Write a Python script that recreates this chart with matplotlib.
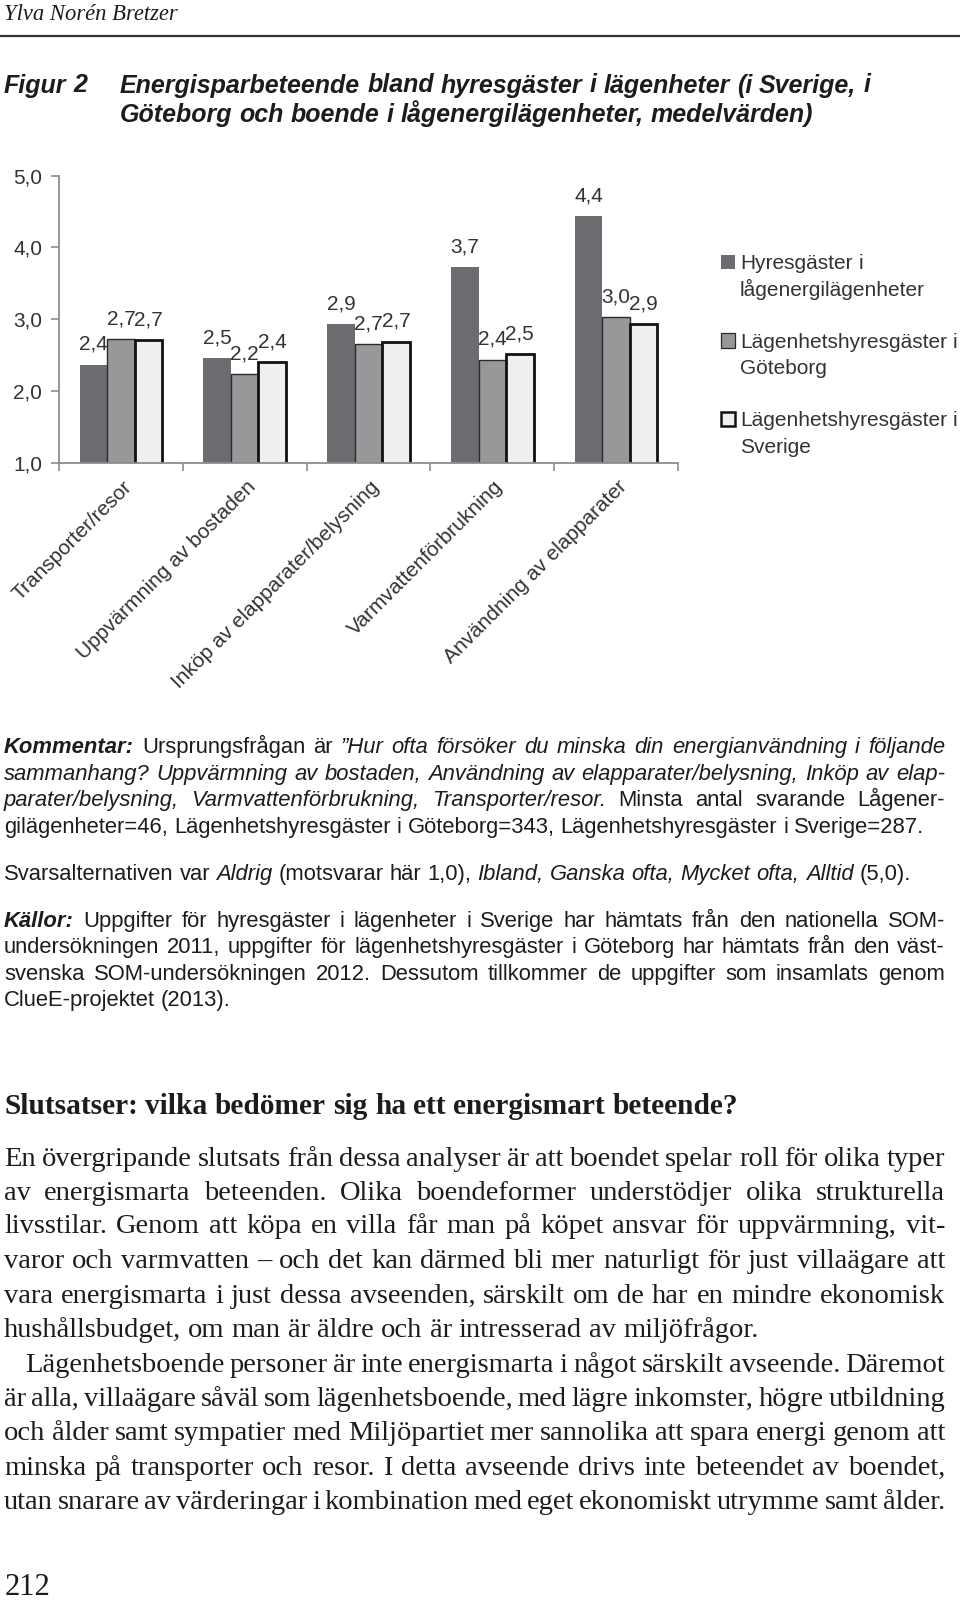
import matplotlib
matplotlib.use("Agg")
import matplotlib.pyplot as plt
from matplotlib.font_manager import FontProperties
from matplotlib.patches import Rectangle
from matplotlib.transforms import ScaledTranslation

# ------------------------------------------------------------
# Data (läst från figuren)
# ------------------------------------------------------------
categories = ["Transporter/resor", "Uppvärmning av bostaden",
              "Inköp av elapparater/belysning", "Varmvattenförbrukning",
              "Användning av elapparater"]
series_labels = [["Hyresgäster i", "lågenergilägenheter"],
                 ["Lägenhetshyresgäster i", "Göteborg"],
                 ["Lägenhetshyresgäster i", "Sverige"]]
lagenergi = [2.37, 2.46, 2.93, 3.73, 4.44]
goteborg = [2.73, 2.24, 2.66, 2.44, 3.03]
sverige = [2.71, 2.41, 2.69, 2.51, 2.93]
yticks = [1.0, 2.0, 3.0, 4.0, 5.0]

W, H, DPI = 960, 1600, 100
TXT = "#1c1c1c"
CHART_TXT = "#333333"

fig = plt.figure(figsize=(W / DPI, H / DPI), dpi=DPI)
renderer = fig.canvas.get_renderer()


def fx(px):
    return px / W


def fy(py):
    return 1 - py / H


def text_w(s, fp):
    w, h, d = renderer.get_text_width_height_descent(s, fp, ismath=False)
    return w


def put_line(segments, x0, yc, right=None, color=TXT):
    """Skriver en rad med blandade stilar, ev. marginaljusterad."""
    words = [[]]
    for text, fp in segments:
        for k, part in enumerate(text.split(" ")):
            if k > 0:
                words.append([])
            if part:
                words[-1].append((part, fp))
    words = [w for w in words if w]
    widths = [sum(text_w(t, fp) for t, fp in w) for w in words]
    base_fp = segments[-1][1]
    space = text_w("a a", base_fp) - text_w("aa", base_fp)
    if right is not None and len(words) > 1:
        gap = max((right - x0 - sum(widths)) / (len(words) - 1), 0.5 * space)
    else:
        gap = space
    size_px = base_fp.get_size_in_points() * DPI / 72
    baseline = yc + 0.34 * size_px
    x = x0
    for w, wd in zip(words, widths):
        xx = x
        for t, fp in w:
            fig.text(fx(xx), fy(baseline), t, fontproperties=fp, color=color,
                     ha="left", va="baseline")
            xx += text_w(t, fp)
        x += wd + gap


# typsnitt
SANS = "Liberation Sans"
SERIF = "Liberation Serif"
title_fp = FontProperties(family=SANS, weight="bold", style="italic", size=18)
c_n = FontProperties(family=SANS, size=15.8)
c_i = FontProperties(family=SANS, style="italic", size=15.8)
c_b = FontProperties(family=SANS, weight="bold", style="italic", size=15.8)
b_n = FontProperties(family=SERIF, size=20.5)
h_b = FontProperties(family=SERIF, weight="bold", size=21.2)

# ------------------------------------------------------------
# Sidhuvud och figurrubrik
# ------------------------------------------------------------
fig.text(fx(4), fy(20), "Ylva Norén Bretzer", family=SERIF, style="italic",
         size=16.3, color=TXT, va="baseline")
fig.add_artist(plt.Line2D([0, 1], [fy(35.5), fy(35.5)], color="#333333", lw=1.6))

put_line([("Figur 2", title_fp)], 4, 84)
put_line([("Energisparbeteende bland hyresgäster i lägenheter (i Sverige, i", title_fp)], 120, 84)
put_line([("Göteborg och boende i lågenergilägenheter, medelvärden)", title_fp)], 120, 113.5)

# ------------------------------------------------------------
# Stapeldiagram
# ------------------------------------------------------------
ax_left, ax_right, ax_top, ax_bottom = 59, 678, 175.5, 463
ax = fig.add_axes([fx(ax_left), fy(ax_bottom), (ax_right - ax_left) / W,
                   (ax_bottom - ax_top) / H])

bw = 0.222
pos = [i + 0.5 for i in range(len(categories))]
styles = [dict(color="#6c6c70", edgecolor="#6c6c70", linewidth=0),
          dict(color="#98989b", edgecolor="#2a2a2a", linewidth=1.0),
          dict(color="#efefef", edgecolor="#111111", linewidth=2.0)]
for k, (vals, st) in enumerate(zip([lagenergi, goteborg, sverige], styles)):
    xs = [p + (k - 1) * bw for p in pos]
    ax.bar(xs, vals, bw, **st)
    for x, v in zip(xs, vals):
        ax.annotate(f"{v:.1f}".replace(".", ","), (x, v), xytext=(0, 14.5),
                    textcoords="offset points", ha="center", va="center",
                    family=SANS, size=15, color=CHART_TXT)

ax.set_xlim(0, len(categories))
ax.set_ylim(1, 5)
for s in ["top", "right"]:
    ax.spines[s].set_visible(False)
for s in ["left", "bottom"]:
    ax.spines[s].set_color("#8c8c8c")
    ax.spines[s].set_linewidth(1.3)

ax.set_yticks(yticks)
ax.set_yticklabels([f"{t:.1f}".replace(".", ",") for t in yticks],
                   family=SANS, size=15, color=CHART_TXT)
ax.tick_params(axis="y", length=5.5, width=1.2, color="#8c8c8c", pad=6.5)

ax.set_xticks(range(len(categories) + 1))
ax.set_xticklabels([])
ax.tick_params(axis="x", which="major", length=6, width=1.2, color="#8c8c8c")
ax.set_xticks(pos, minor=True)
ax.set_xticklabels(categories, minor=True, family=SANS, size=15,
                   color=CHART_TXT)
ax.tick_params(axis="x", which="minor", length=0, pad=15)
shift = ScaledTranslation(8 / DPI, 0, fig.dpi_scale_trans)
for lab in ax.get_xticklabels(minor=True):
    lab.set_rotation(45)
    lab.set_rotation_mode("anchor")
    lab.set_ha("right")
    lab.set_va("center")
    lab.set_transform(lab.get_transform() + shift)

# legend (handritad: rutan i höjd med första raden)
leg_fp = FontProperties(family=SANS, size=15)
for i, (lines, st) in enumerate(zip(series_labels, styles)):
    yc = 262 + i * 78.5
    ec = st["edgecolor"] if st["linewidth"] > 0 else st["color"]
    fig.add_artist(Rectangle((fx(721), fy(yc + 7)), 14 / W, 14 / H,
                             facecolor=st["color"], edgecolor=ec,
                             linewidth=max(st["linewidth"], 0.01) * 0.9))
    for j, line in enumerate(lines):
        put_line([(line, leg_fp)], 740, yc + j * 26.5, color=CHART_TXT)

# ------------------------------------------------------------
# Kommentar och källor
# ------------------------------------------------------------
R = 945
comment = [
    ([("Kommentar:", c_b), (" Ursprungsfrågan är ", c_n),
      ("”Hur ofta försöker du minska din energianvändning i följande", c_i)], 746, True),
    ([("sammanhang? Uppvärmning av bostaden, Användning av elapparater/belysning, Inköp av elap-", c_i)], 772.5, True),
    ([("parater/belysning, Varmvattenförbrukning, Transporter/resor.", c_i),
      (" Minsta antal svarande Lågener-", c_n)], 799, True),
    ([("gilägenheter=46, Lägenhetshyresgäster i Göteborg=343, Lägenhetshyresgäster i Sverige=287.", c_n)], 825.5, False),
    ([("Svarsalternativen var ", c_n), ("Aldrig", c_i), (" (motsvarar här 1,0), ", c_n),
      ("Ibland, Ganska ofta, Mycket ofta, Alltid", c_i), (" (5,0).", c_n)], 872.5, False),
    ([("Källor:", c_b), (" Uppgifter för hyresgäster i lägenheter i Sverige har hämtats från den nationella SOM-", c_n)], 919.5, True),
    ([("undersökningen 2011, uppgifter för lägenhetshyresgäster i Göteborg har hämtats från den väst-", c_n)], 946, True),
    ([("svenska SOM-undersökningen 2012. Dessutom tillkommer de uppgifter som insamlats genom", c_n)], 972.5, True),
    ([("ClueE-projektet (2013).", c_n)], 999, False),
]
for segs, yc, just in comment:
    put_line(segs, 4, yc, right=R if just else None)

# ------------------------------------------------------------
# Brödtext
# ------------------------------------------------------------
put_line([("Slutsatser: vilka bedömer sig ha ett energismart beteende?", h_b)], 4, 1104)

body = [
    ("En övergripande slutsats från dessa analyser är att boendet spelar roll för olika typer", 4, True),
    ("av energismarta beteenden. Olika boendeformer understödjer olika strukturella", 4, True),
    ("livsstilar. Genom att köpa en villa får man på köpet ansvar för uppvärmning, vit-", 4, True),
    ("varor och varmvatten – och det kan därmed bli mer naturligt för just villaägare att", 4, True),
    ("vara energismarta i just dessa avseenden, särskilt om de har en mindre ekonomisk", 4, True),
    ("hushållsbudget, om man är äldre och är intresserad av miljöfrågor.", 4, False),
    ("Lägenhetsboende personer är inte energismarta i något särskilt avseende. Däremot", 25, True),
    ("är alla, villaägare såväl som lägenhetsboende, med lägre inkomster, högre utbildning", 4, True),
    ("och ålder samt sympatier med Miljöpartiet mer sannolika att spara energi genom att", 4, True),
    ("minska på transporter och resor. I detta avseende drivs inte beteendet av boendet,", 4, True),
    ("utan snarare av värderingar i kombination med eget ekonomiskt utrymme samt ålder.", 4, True),
]
body_y = [1156, 1190, 1223.5, 1258, 1293, 1327.5, 1362, 1396, 1430.5, 1465, 1499]
for (line, x0, just), yc in zip(body, body_y):
    put_line([(line, b_n)], x0, yc, right=R if just else None)

fig.text(fx(5), fy(1595), "212", family=SERIF, size=22, color=TXT, va="baseline")

fig.savefig("out.png", dpi=DPI)
